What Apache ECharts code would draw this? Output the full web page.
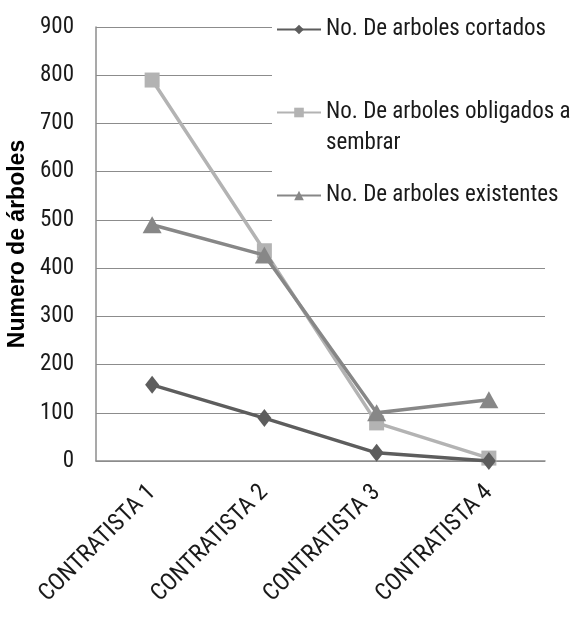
<!DOCTYPE html>
<html><head><meta charset="utf-8">
<script src="https://cdn.jsdelivr.net/npm/echarts@6/dist/echarts.min.js"></script>
<style>html,body{margin:0;padding:0;background:#fff}#c{width:573px;height:617px}</style>
</head><body><div id="c"></div>
<script>
const categories = ['CONTRATISTA 1','CONTRATISTA 2','CONTRATISTA 3','CONTRATISTA 4'];
const cortados = [158, 89, 17, 0];
const obligados = [790, 436, 79, 6];
const existentes = [490, 427, 100, 127];
const yTicks = {min: 0, max: 900, interval: 100};
const names = ['No. De arboles cortados','No. De arboles obligados a sembrar','No. De arboles existentes'];

const chart = echarts.init(document.getElementById('c'));
const font = '"Roboto Condensed", Roboto, sans-serif';
chart.setOption({
  animation: false,
  grid: {left: 96, right: 28, top: 27, bottom: 156, outerBoundsMode: 'none', containLabel: false},
  legend: {
    orient: 'vertical', left: 272, top: 10,
    backgroundColor: '#fff', padding: [4, 4, 20, 4],
    itemWidth: 44, itemHeight: 12, itemGap: 21,
    textStyle: {fontFamily: font, fontSize: 23, color: '#1a1a1a', lineHeight: 31},
    formatter: n => n === names[1] ? '\nNo. De arboles obligados a\nsembrar' : n,
    data: names
  },
  xAxis: {
    type: 'category', data: categories, boundaryGap: true,
    axisLine: {lineStyle: {color: '#8c8c8c', width: 1.5}},
    axisTick: {show: false},
    axisLabel: {rotate: 45, fontFamily: font, fontSize: 24, color: '#1a1a1a', margin: 28, interval: 0}
  },
  yAxis: {
    type: 'value', min: yTicks.min, max: yTicks.max, interval: yTicks.interval,
    name: 'Numero de árboles', nameLocation: 'middle', nameGap: 66,
    nameTextStyle: {fontFamily: '"Liberation Sans", sans-serif', fontSize: 23, fontWeight: 'bold', color: '#000'},
    axisLine: {show: true, lineStyle: {color: '#8c8c8c', width: 1.5}},
    axisTick: {show: false},
    splitLine: {lineStyle: {color: '#8c8c8c', width: 1.2}},
    axisLabel: {fontFamily: font, fontSize: 23, color: '#1a1a1a', margin: 22}
  },
  series: [
    {name: names[0], type: 'line', data: cortados, symbol: 'diamond', symbolSize: [14, 18],
     lineStyle: {color: '#5d5d5d', width: 3.5}, itemStyle: {color: '#5d5d5d'}, z: 3},
    {name: names[1], type: 'line', data: obligados, symbol: 'rect', symbolSize: 15,
     lineStyle: {color: '#b3b3b3', width: 3.5}, itemStyle: {color: '#b3b3b3'}, z: 2},
    {name: names[2], type: 'line', data: existentes, symbol: 'triangle', symbolSize: [19, 17],
     lineStyle: {color: '#878787', width: 3.5}, itemStyle: {color: '#878787'}, z: 4}
  ]
});
</script></body></html>
